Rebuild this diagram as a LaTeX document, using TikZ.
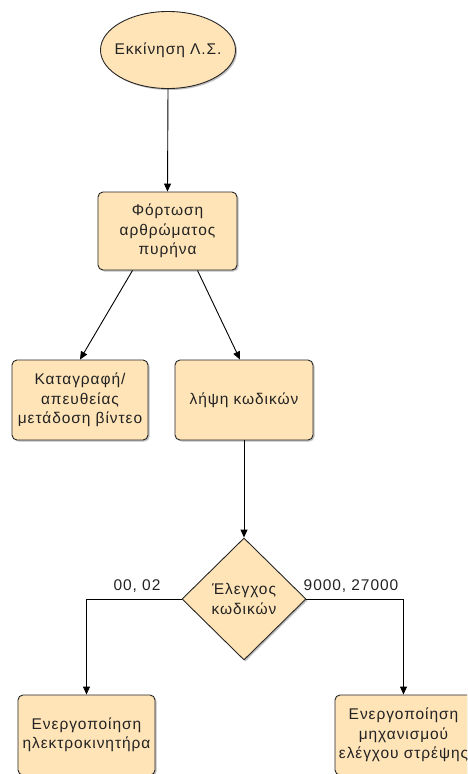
\documentclass[tikz,border=0pt]{standalone}
\usepackage{fontspec}
\setmainfont{Liberation Sans}[LetterSpace=6]
\usetikzlibrary{shapes.geometric,arrows.meta,shadows,calc}
\definecolor{boxfill}{HTML}{FFE4B8}
\definecolor{txt}{HTML}{222222}
\tikzset{
  base/.style={draw=black!85, line width=0.9pt, fill=boxfill, text=txt,
    font=\fontsize{15.5}{19.5}\selectfont, align=center, inner sep=1pt,
    drop shadow={shadow xshift=1.5pt, shadow yshift=-1.5pt, opacity=0.25, fill=black}},
  procbox/.style={base, rectangle, rounded corners=5pt, minimum width=137pt, minimum height=79pt},
  startell/.style={base, ellipse, minimum width=135pt, minimum height=77pt},
  decis/.style={base, diamond, minimum width=124pt, minimum height=122pt},
  conn/.style={draw=black, line width=0.9pt, -{Triangle[length=8pt,width=7pt]}},
  lbl/.style={font=\fontsize{15.5}{18}\selectfont, text=txt}
}
\begin{document}
\begin{tikzpicture}[x=1pt,y=-1pt]
\useasboundingbox (0,0) rectangle (467,774);
\clip (0,0) rectangle (467,774);
\node[startell] (start) at (168,50) {\makebox[70pt]{Εκκίνηση Λ.Σ.}};
\node[procbox, minimum width=139pt, minimum height=78pt] (load) at (167.5,231) {Φόρτωση\\αρθρώματος\\πυρήνα};
\node[procbox, minimum width=136pt, minimum height=80pt] (rec) at (80,400) {Καταγραφή/\\απευθείας\\μετάδοση βίντεο};
\node[procbox, minimum width=138pt, minimum height=80pt] (codes) at (244,400) {λήψη κωδικών};
\node[decis] (chk) at (244,599) {Έλεγχος\\κωδικών};
\node[procbox, minimum width=137pt, minimum height=80pt] (motor) at (86.5,735) {Ενεργοποίηση\\ηλεκτροκινητήρα};
\node[procbox, minimum width=137pt, minimum height=80pt] (steer) at (403.5,735) {Ενεργοποίηση\\μηχανισμού\\ελέγχου στρέψης};
\coordinate (lt) at ($(load.south)+(-35,0)$);
\coordinate (rt) at ($(load.south)+(30,0)$);
\coordinate (ce) at ($(codes.north)+(-4,0)$);
\draw[conn] (start.south) -- (load.north);
\draw[conn] (lt) -- (rec.north);
\draw[conn] (rt) -- (ce);
\draw[conn] (codes.south) -- (chk.north);
\draw[conn] (chk.west) -| (motor.north);
\draw[conn] (chk.east) -| (steer.north);
\node[lbl] (l1) at (137,586) {00, 02};
\node[lbl] (l2) at (351,586) {9000, 27000};
\end{tikzpicture}
\end{document}
